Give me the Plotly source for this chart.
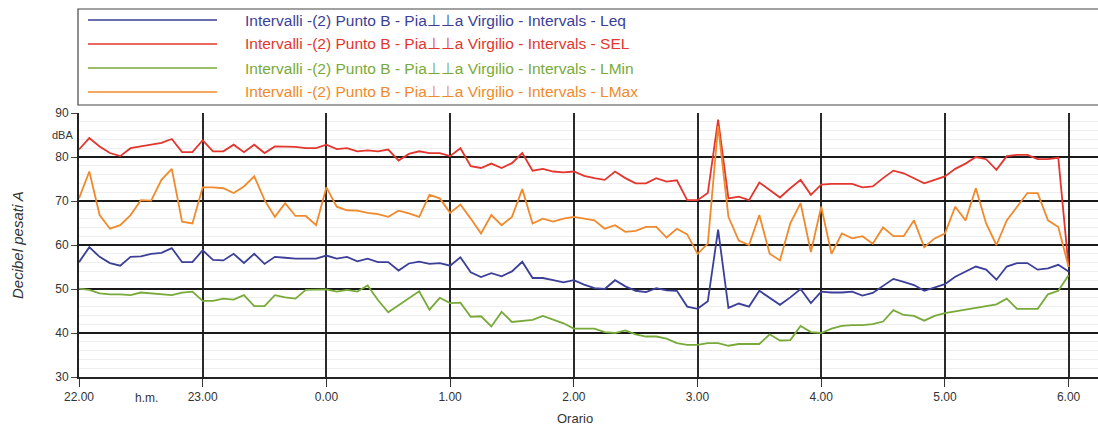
import pandas as pd
import plotly.graph_objects as go

# 5-minute intervals, 22:00 -> 06:00
times = pd.date_range("2000-01-01 22:00", "2000-01-02 06:00", freq="5min")

leq = [56.1, 59.5, 57.3, 55.9, 55.3, 57.3, 57.4, 58.0, 58.2, 59.3, 56.1, 56.1,
       58.8, 56.6, 56.5, 58.0, 55.9, 58.0, 55.7, 57.3, 57.1, 56.9, 56.9, 56.9,
       57.6, 56.9, 57.3, 56.3, 56.9, 56.1, 56.1, 54.2, 55.8, 56.2, 55.7, 55.9,
       55.3, 57.2, 53.8, 52.7, 53.6, 52.9, 54.0, 56.2, 52.5, 52.5, 52.0, 51.5,
       52.0, 51.0, 50.2, 50.0, 52.0, 50.6, 49.6, 49.3, 50.2, 49.7, 49.6, 46.0,
       45.5, 47.2, 63.5, 45.7, 46.7, 46.0, 49.6, 48.1, 46.4, 48.1, 50.0, 46.8,
       49.4, 49.2, 49.2, 49.4, 48.5, 49.1, 50.7, 52.3, 51.6, 50.9, 49.6, 50.4,
       51.1, 52.8, 54.0, 55.1, 54.4, 52.1, 55.1, 55.9, 55.9, 54.4, 54.7, 55.5,
       54.0]

sel = [81.7, 84.3, 82.4, 80.9, 80.2, 82.0, 82.4, 82.8, 83.2, 84.1, 81.1, 81.1,
       83.8, 81.3, 81.3, 82.8, 81.1, 82.8, 80.9, 82.4, 82.4, 82.3, 82.0, 82.0,
       82.8, 81.8, 82.0, 81.3, 81.5, 81.3, 81.7, 79.2, 80.7, 81.3, 80.9, 80.9,
       80.2, 82.0, 77.9, 77.5, 78.5, 77.5, 78.6, 80.9, 76.9, 77.3, 76.7, 76.5,
       76.7, 75.7, 75.2, 74.8, 76.7, 75.2, 74.0, 74.0, 75.2, 74.4, 74.7, 70.2,
       70.2, 71.8, 88.5, 70.6, 71.0, 70.2, 74.2, 72.5, 70.8, 72.9, 74.8, 71.4,
       73.7, 73.9, 73.9, 73.9, 73.1, 73.3, 75.2, 76.9, 76.3, 75.2, 74.0, 74.8,
       75.6, 77.3, 78.5, 80.0, 79.5, 77.1, 80.2, 80.5, 80.5, 79.5, 79.5, 79.8,
       55.0]

lmin = [50.1, 49.8, 49.0, 48.8, 48.8, 48.6, 49.2, 49.0, 48.8, 48.6, 49.2, 49.4,
        47.3, 47.3, 47.8, 47.6, 48.6, 46.1, 46.1, 48.6, 48.1, 47.8, 49.8, 49.9,
        49.9, 49.4, 49.8, 49.4, 50.8, 47.5, 44.7, 46.3, 48.0, 49.5, 45.3, 48.0,
        46.8, 46.9, 43.7, 43.8, 41.5, 44.8, 42.5, 42.8, 43.0, 43.9, 43.1, 42.2,
        41.0, 41.0, 41.0, 40.2, 40.0, 40.6, 39.7, 39.2, 39.2, 38.7, 37.7, 37.3,
        37.3, 37.7, 37.7, 37.1, 37.5, 37.5, 37.5, 39.7, 38.3, 38.4, 41.6, 40.2,
        40.0, 41.0, 41.6, 41.8, 41.8, 42.0, 42.6, 45.2, 44.1, 43.9, 42.8, 43.9,
        44.5, 44.9, 45.3, 45.7, 46.1, 46.5, 47.8, 45.5, 45.5, 45.5, 48.8, 49.6,
        53.1]

lmax = [70.6, 76.7, 66.8, 63.7, 64.5, 66.8, 70.2, 70.1, 74.8, 77.3, 65.3, 64.9,
        73.1, 73.1, 72.9, 71.8, 73.3, 75.6, 70.2, 66.4, 69.5, 66.6, 66.6, 64.5,
        73.1, 68.7, 67.9, 67.8, 67.3, 67.0, 66.4, 67.8, 67.2, 66.4, 71.4, 70.6,
        67.3, 69.2, 66.0, 62.6, 66.8, 64.5, 66.4, 72.7, 64.9, 66.0, 65.3, 66.0,
        66.4, 66.0, 65.6, 63.7, 64.5, 63.0, 63.2, 64.1, 64.1, 61.7, 63.7, 62.4,
        58.0, 60.3, 87.0, 66.4, 61.0, 60.0, 66.8, 58.0, 56.5, 64.9, 69.5, 58.4,
        68.7, 58.0, 62.6, 61.5, 62.0, 60.3, 64.0, 62.0, 62.0, 65.6, 59.5, 61.5,
        62.6, 68.7, 65.6, 72.9, 64.9, 60.0, 65.6, 68.7, 71.8, 71.8, 65.6, 64.1,
        55.0]

hour_ticks = pd.date_range("2000-01-01 22:00", "2000-01-02 06:00", freq="1h")
hour_labels = ["22.00", "23.00", "0.00", "1.00", "2.00", "3.00", "4.00", "5.00", "6.00"]

prefix = "Intervalli -(2) Punto B - Pia\u22a5\u22a5a Virgilio - Intervals - "
series = [
    ("Leq", leq, "#3b3f98"),
    ("SEL", sel, "#e2362f"),
    ("LMin", lmin, "#78aa3a"),
    ("LMax", lmax, "#f08a2c"),
]

W, H = 1098, 431
L, R, T, B = 79, 0, 113, 54
PW, PH = W - L - R, H - T - B


def px(x):
    return (x - L) / PW


def py(y):
    return (H - B - y) / PH


FONT = "Liberation Sans Narrow, Arial Narrow, Liberation Sans, Arial, sans-serif"

fig = go.Figure()
draw_order = ["LMin", "Leq", "SEL", "LMax"]
lookup = {name: (vals, col) for name, vals, col in series}
for name in draw_order:
    vals, col = lookup[name]
    fig.add_trace(go.Scatter(
        x=times, y=vals, mode="lines", name=name,
        line=dict(color=col, width=1.8), showlegend=False,
    ))

shapes = []
annotations = []

# legend box
shapes.append(dict(type="rect", xref="paper", yref="paper",
                   x0=px(78), x1=px(1110), y0=py(105), y1=py(9),
                   line=dict(color="#444", width=1.2), fillcolor="rgba(0,0,0,0)"))
for k, (name, vals, col) in enumerate(series):
    yy = 20 + k * 24
    shapes.append(dict(type="line", xref="paper", yref="paper",
                       x0=px(88), x1=px(217), y0=py(yy), y1=py(yy),
                       line=dict(color=col, width=1.6)))
    annotations.append(dict(xref="paper", yref="paper", x=px(243), y=py(yy),
                            xanchor="left", yanchor="middle", showarrow=False,
                            text=prefix + name,
                            font=dict(family=FONT, size=15.5, color=col)))

annotations += [
    dict(xref="paper", yref="paper", x=px(62), y=py(135), text="dBA",
         showarrow=False, xanchor="center", yanchor="middle",
         font=dict(family=FONT, size=11, color="#333")),
    dict(xref="paper", yref="paper", x=px(146), y=py(398), text="h.m.",
         showarrow=False, xanchor="center", yanchor="middle",
         font=dict(family=FONT, size=12, color="#333")),
    dict(xref="paper", yref="paper", x=px(575), y=py(418), text="Orario",
         showarrow=False, xanchor="center", yanchor="middle",
         font=dict(family=FONT, size=13, color="#333")),
    dict(xref="paper", yref="paper", x=px(17), y=py(245), text="<i>Decibel pesati A</i>",
         showarrow=False, xanchor="center", yanchor="middle", textangle=-90,
         font=dict(family=FONT, size=15, color="#333")),
]

x_end = pd.Timestamp("2000-01-01 22:00") + pd.Timedelta(hours=PW / 123.7)

fig.update_layout(
    width=W, height=H,
    margin=dict(l=L, r=R, t=T, b=B, pad=0),
    paper_bgcolor="white", plot_bgcolor="white",
    shapes=shapes, annotations=annotations,
    xaxis=dict(
        range=[times[0], x_end], tickmode="array",
        tickvals=hour_ticks, ticktext=hour_labels,
        showgrid=True, gridcolor="#2a2a2a", gridwidth=2,
        ticks="outside", ticklen=8, tickcolor="#333", tickwidth=1,
        showline=True, linecolor="#222", linewidth=2,
        tickfont=dict(family=FONT, size=12, color="#333"),
        zeroline=False,
    ),
    yaxis=dict(
        range=[30, 90], tickmode="array",
        tickvals=[30, 40, 50, 60, 70, 80, 90],
        showgrid=True, gridcolor="#1a1a1a", gridwidth=1.5,
        minor=dict(dtick=2, showgrid=True, gridcolor="#eeeeee", gridwidth=1),
        ticks="outside", ticklen=6, tickcolor="#444",
        showline=True, linecolor="#222", linewidth=2,
        tickfont=dict(family=FONT, size=12, color="#333"),
        zeroline=False,
    ),
)

fig.write_html("out.html")
